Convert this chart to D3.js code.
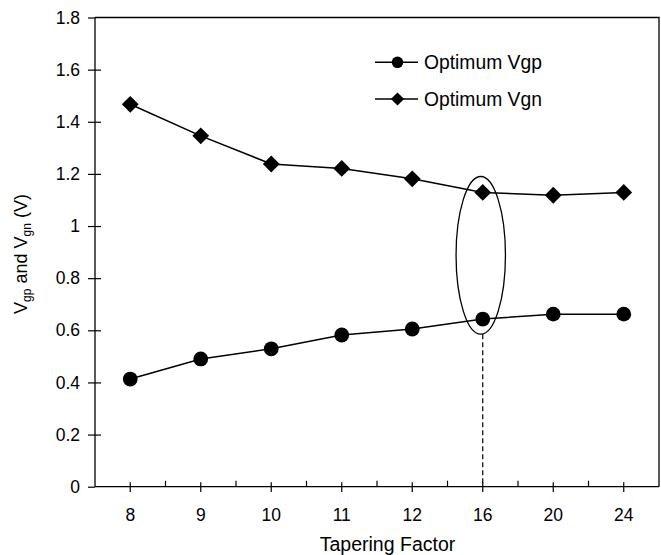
<!DOCTYPE html>
<html>
<head>
<meta charset="utf-8">
<script src="https://cdn.jsdelivr.net/npm/d3@7"></script>
<style>
  body { margin: 0; background: #fff; }
  text { font-family: "Liberation Sans", Arial, sans-serif; fill: #000; }
</style>
</head>
<body>
<div id="chart"></div>
<script>
var factors = ["8", "9", "10", "11", "12", "16", "20", "24"];
var vgp = [0.413, 0.490, 0.529, 0.582, 0.605, 0.643, 0.662, 0.662];
var vgn = [1.467, 1.346, 1.238, 1.221, 1.181, 1.129, 1.118, 1.129];
var yTicks = [0, 0.2, 0.4, 0.6, 0.8, 1, 1.2, 1.4, 1.6, 1.8];
var seriesNames = ["Optimum Vgp", "Optimum Vgn"];
// the ringed pair at factor 16 (lower and upper edge, in volts)
var ringAt = "16";
var ringSpan = [0.585, 1.19];

(function(){
    var width = 661,
        height = 555;
    var left = 95, right = 659, top = 17.5, bottom = 486.7;

    var svg = d3.select("#chart")
        .append("svg")
        .attr("width", width)
        .attr("height", height);

    var x = d3.scaleBand().domain(factors).range([left, right]).padding(0);
    var y = d3.scaleLinear().domain([0, 1.8]).range([bottom, top]);
    var cx = function(f){ return x(f) + x.bandwidth() / 2; };

    // frame top & right
    svg.append("path")
        .attr("d", "M" + left + "," + top + "H" + right + "V" + bottom)
        .attr("fill", "none")
        .attr("stroke", "#000")
        .attr("stroke-width", 1.3);

    // y axis
    var yAxis = svg.append("g")
        .attr("transform", "translate(" + left + ",0)")
        .call(d3.axisLeft(y).tickValues(yTicks).tickSize(7).tickPadding(8)
            .tickFormat(function(d){ return d3.format("")(+d.toFixed(1)); }));
    yAxis.select(".domain").attr("stroke-width", 1.3).attr("d", "M0," + bottom + "V" + top);
    yAxis.selectAll(".tick line").attr("x2", -7).attr("x1", 6).attr("stroke-width", 1.2);
    yAxis.selectAll(".tick").filter(function(d){ return d === 0 || d === 1.8; })
        .select("line").attr("x1", 0);
    yAxis.selectAll("text").style("font-size", "17.5px").attr("font-family", null);

    // x axis
    var xAxis = svg.append("g")
        .attr("transform", "translate(0," + bottom + ")")
        .call(d3.axisBottom(x).tickSize(5));
    xAxis.select(".domain").attr("stroke-width", 1.3).attr("d", "M" + left + ",0H" + right);
    xAxis.selectAll(".tick line").attr("y1", -4.5).attr("y2", 5.3).attr("stroke-width", 1.2);
    xAxis.selectAll("text").attr("y", 34).attr("dy", null)
        .style("font-size", "17.5px").attr("font-family", null);
    xAxis.selectAll(".between")
        .data(factors.slice(1))
        .enter().append("line")
        .attr("class", "between")
        .attr("x1", function(d){ return x(d); })
        .attr("x2", function(d){ return x(d); })
        .attr("y1", 0).attr("y2", -6)
        .attr("stroke", "#000").attr("stroke-width", 1.2);

    // axis titles
    svg.append("text")
        .attr("x", 387.5)
        .attr("y", 551)
        .attr("text-anchor", "middle")
        .style("font-size", "19.5px")
        .text("Tapering Factor");

    var yt = svg.append("text")
        .attr("transform", "translate(27,254) rotate(-90)")
        .attr("text-anchor", "middle")
        .style("font-size", "18px");
    yt.append("tspan").text("V");
    yt.append("tspan").attr("dy", 4).style("font-size", "12px").text("gp");
    yt.append("tspan").attr("dy", -4).text(" and V");
    yt.append("tspan").attr("dy", 4).style("font-size", "12px").text("gn");
    yt.append("tspan").attr("dy", -4).text(" (V)");

    // ring and dashed drop line
    var ringTop = y(ringSpan[1]), ringBot = y(ringSpan[0]);
    svg.append("ellipse")
        .attr("cx", cx(ringAt) - 2)
        .attr("cy", (ringTop + ringBot) / 2)
        .attr("rx", 24.7)
        .attr("ry", (ringBot - ringTop) / 2)
        .attr("fill", "none")
        .attr("stroke", "#000")
        .attr("stroke-width", 1.3);
    svg.append("line")
        .attr("x1", cx(ringAt)).attr("x2", cx(ringAt))
        .attr("y1", ringBot).attr("y2", bottom)
        .attr("stroke", "#000")
        .attr("stroke-width", 1.2)
        .attr("stroke-dasharray", "5,3");

    var line = d3.line()
        .x(function(d, i){ return cx(factors[i]); })
        .y(function(d){ return y(d); });

    var diamond = function(s){ return "M0," + (-s) + "L" + s + ",0L0," + s + "L" + (-s) + ",0Z"; };

    // Vgn
    svg.append("path").datum(vgn)
        .attr("d", line).attr("fill", "none")
        .attr("stroke", "#000").attr("stroke-width", 1.5);
    svg.selectAll(".vgn")
        .data(vgn)
        .enter().append("path")
        .attr("class", "vgn")
        .attr("transform", function(d, i){ return "translate(" + cx(factors[i]) + "," + y(d) + ")"; })
        .attr("d", diamond(8.4))
        .attr("fill", "#000");

    // Vgp
    svg.append("path").datum(vgp)
        .attr("d", line).attr("fill", "none")
        .attr("stroke", "#000").attr("stroke-width", 1.5);
    svg.selectAll(".vgp")
        .data(vgp)
        .enter().append("circle")
        .attr("class", "vgp")
        .attr("cx", function(d, i){ return cx(factors[i]); })
        .attr("cy", function(d){ return y(d); })
        .attr("r", 7.4)
        .attr("fill", "#000");

    // legend
    var legend = svg.selectAll(".legend")
        .data(seriesNames)
        .enter().append("g")
        .attr("class", "legend")
        .attr("transform", function(d, i){ return "translate(375," + (62.3 + i * 36.7) + ")"; });
    legend.append("line")
        .attr("x1", 0).attr("x2", 43)
        .attr("stroke", "#000").attr("stroke-width", 1.5);
    legend.each(function(d, i){
        var g = d3.select(this);
        if (i === 0) {
            g.append("circle").attr("cx", 22.5).attr("r", 5.8).attr("fill", "#000");
        } else {
            g.append("path").attr("transform", "translate(22.5,0)").attr("d", diamond(6.6)).attr("fill", "#000");
        }
    });
    legend.append("text")
        .attr("x", 49)
        .attr("y", 6.5)
        .style("font-size", "19.3px")
        .text(function(d){ return d; });
})();
</script>
</body>
</html>
